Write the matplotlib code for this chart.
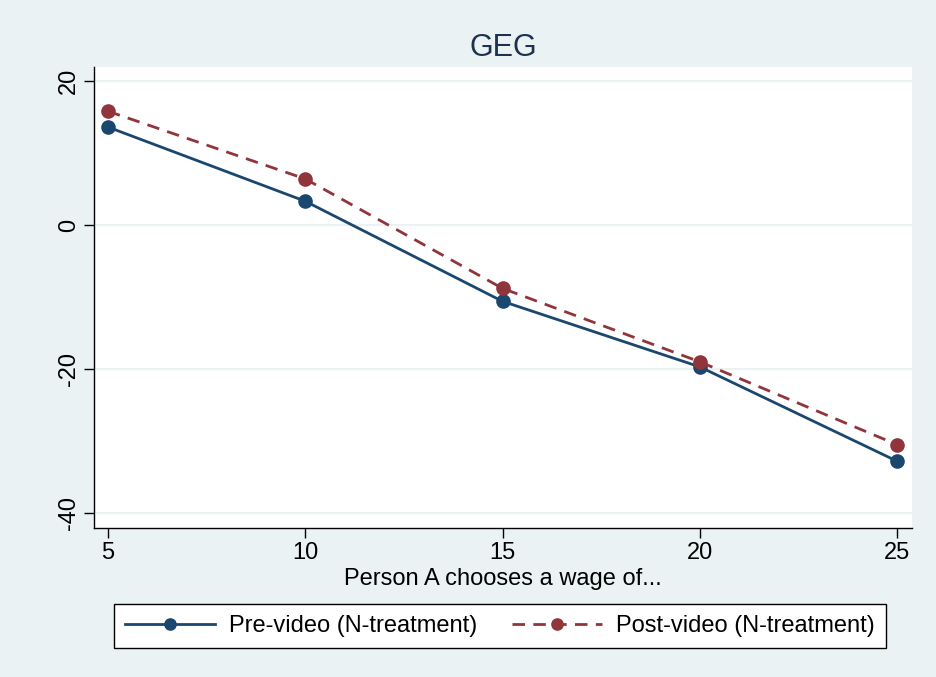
# line chart of GEG by wage chosen, pre vs post video
import matplotlib.pyplot as plt

plt.rcParams['font.family'] = ['Liberation Sans', 'DejaVu Sans']
plt.rcParams['axes.unicode_minus'] = False

wage = [5, 10, 15, 20, 25]
pre_video = [13.6, 3.3, -10.6, -19.7, -32.8]
post_video = [15.8, 6.4, -8.8, -19.0, -30.5]

bg = '#eaf2f3'
navy = '#1a476f'
maroon = '#90353b'

fig = plt.figure(figsize=(9.37, 6.77), dpi=100, facecolor=bg)
ax = fig.add_axes([94 / 937, 1 - 528 / 677, 818 / 937, 461 / 677])
ax.set_facecolor('white')

ax.plot(wage, pre_video, color=navy, lw=2, marker='o', ms=9.5,
        label='Pre-video (N-treatment)', zorder=3)
ax.plot(wage, post_video, color=maroon, lw=2, ls=(0, (4.5, 3)), marker='o', ms=9.5,
        label='Post-video (N-treatment)', zorder=3)

ax.set_xlim(4.645, 25.38)
ax.set_ylim(-42.08, 21.94)
ax.set_xticks(wage)
ax.set_yticks([-40, -20, 0, 20])
ax.yaxis.grid(True, color=bg, lw=1.5)
ax.set_axisbelow(True)

for s in ['top', 'right']:
    ax.spines[s].set_visible(False)
for s in ['left', 'bottom']:
    ax.spines[s].set_color('black')
    ax.spines[s].set_linewidth(1.0)

ax.tick_params(axis='both', labelsize=17, length=7, width=1, pad=3)
plt.setp(ax.get_yticklabels(), rotation=90, va='center')

ax.set_xlabel('Person A chooses a wage of...', fontsize=17, labelpad=3)
ax.set_title('GEG', fontsize=22, color='#1e3250', pad=8)

fig.legend(loc='center', bbox_to_anchor=(500 / 937, 1 - 626 / 677), ncol=2,
           fontsize=17, frameon=True, fancybox=False, edgecolor='black',
           framealpha=1, columnspacing=1.5, handlelength=3.8, handletextpad=0.6,
           borderpad=0.45, markerscale=0.85)

fig.savefig('out.png', dpi=100, facecolor=bg)
